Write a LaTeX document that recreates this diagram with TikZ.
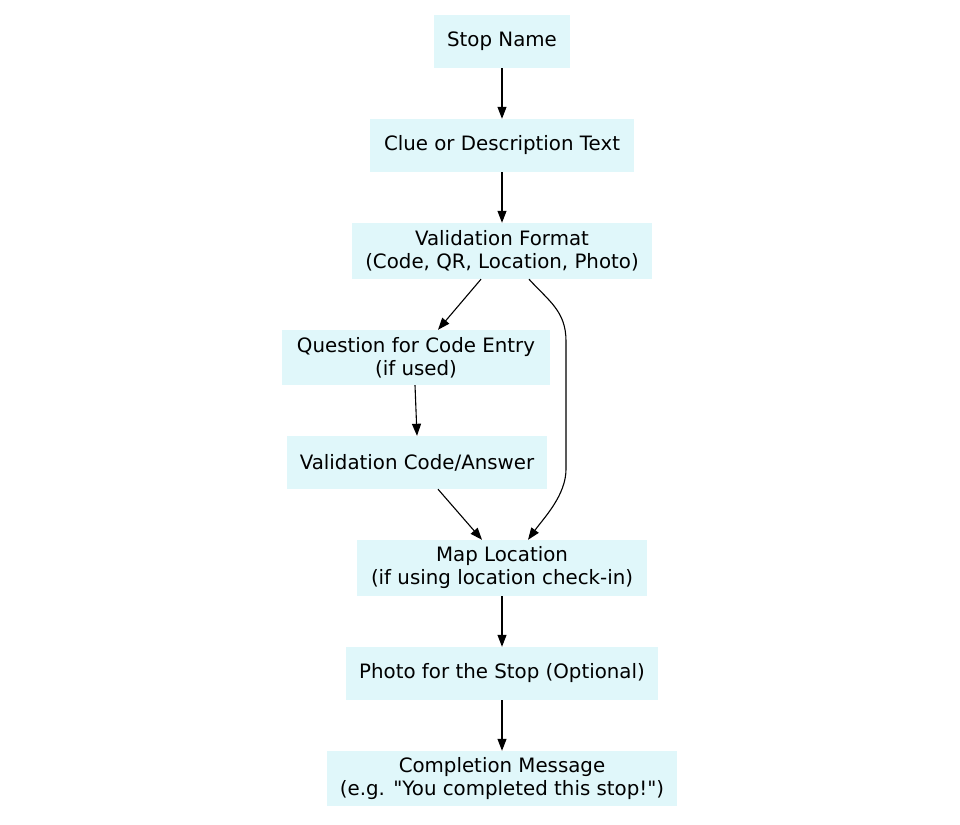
\documentclass[tikz,border=0pt]{standalone}
\usepackage{fontspec}
\setmainfont{DejaVu Sans}[Ligatures=TeXOff]
\usetikzlibrary{arrows.meta}
\definecolor{boxfill}{HTML}{E0F7FA}
\tikzset{
  box/.style={fill=boxfill, draw=none, inner sep=0pt, align=center,
    font=\fontsize{19.8}{23}\selectfont, text=black},
  edge/.style={draw=black, line width=1.1pt, -{Triangle[length=12pt,width=9pt]}}
}
\begin{document}
\begin{tikzpicture}[x=1pt,y=-1pt]
\useasboundingbox (0,0) rectangle (960,824);
\node[box, minimum width=136, minimum height=53] (sn) at (502,41.5) {Stop Name};
\node[box, minimum width=264, minimum height=53] (clue) at (502,145.5) {Clue or Description Text};
\node[box, minimum width=300, minimum height=56] (vf) at (502,251) {Validation Format\\(Code, QR, Location, Photo)};
\node[box, minimum width=268, minimum height=55] (q) at (416,357.5) {Question for Code Entry\\(if used)};
\node[box, minimum width=260, minimum height=53] (vc) at (417,462.5) {Validation Code/Answer};
\node[box, minimum width=290, minimum height=56] (map) at (502,568) {Map Location\\(if using location check-in)};
\node[box, minimum width=312, minimum height=53] (ph) at (502,673.5) {Photo for the Stop (Optional)};
\node[box, minimum width=350, minimum height=55] (cm) at (502,778.5) {Completion Message\\(e.g. "You completed this stop!")};

\draw[edge] (sn) -- (clue);
\draw[edge] (clue) -- (vf);
\draw[edge] ([xshift=-21]vf.south) -- ([xshift=22]q.north);
\draw[edge] ([xshift=27]vf.south) .. controls +(20,22) and +(0,-30) .. ++(37,62)
  -- ++(0,128) .. controls +(0,26) and +(16,-22) .. ([xshift=26]map.north);
\draw[edge] ([xshift=-1]q.south) -- (vc.north);
\draw[edge] ([xshift=21]vc.south) -- ([xshift=-20]map.north);
\draw[edge] (map) -- (ph);
\draw[edge] (ph) -- (cm);
\end{tikzpicture}
\end{document}
